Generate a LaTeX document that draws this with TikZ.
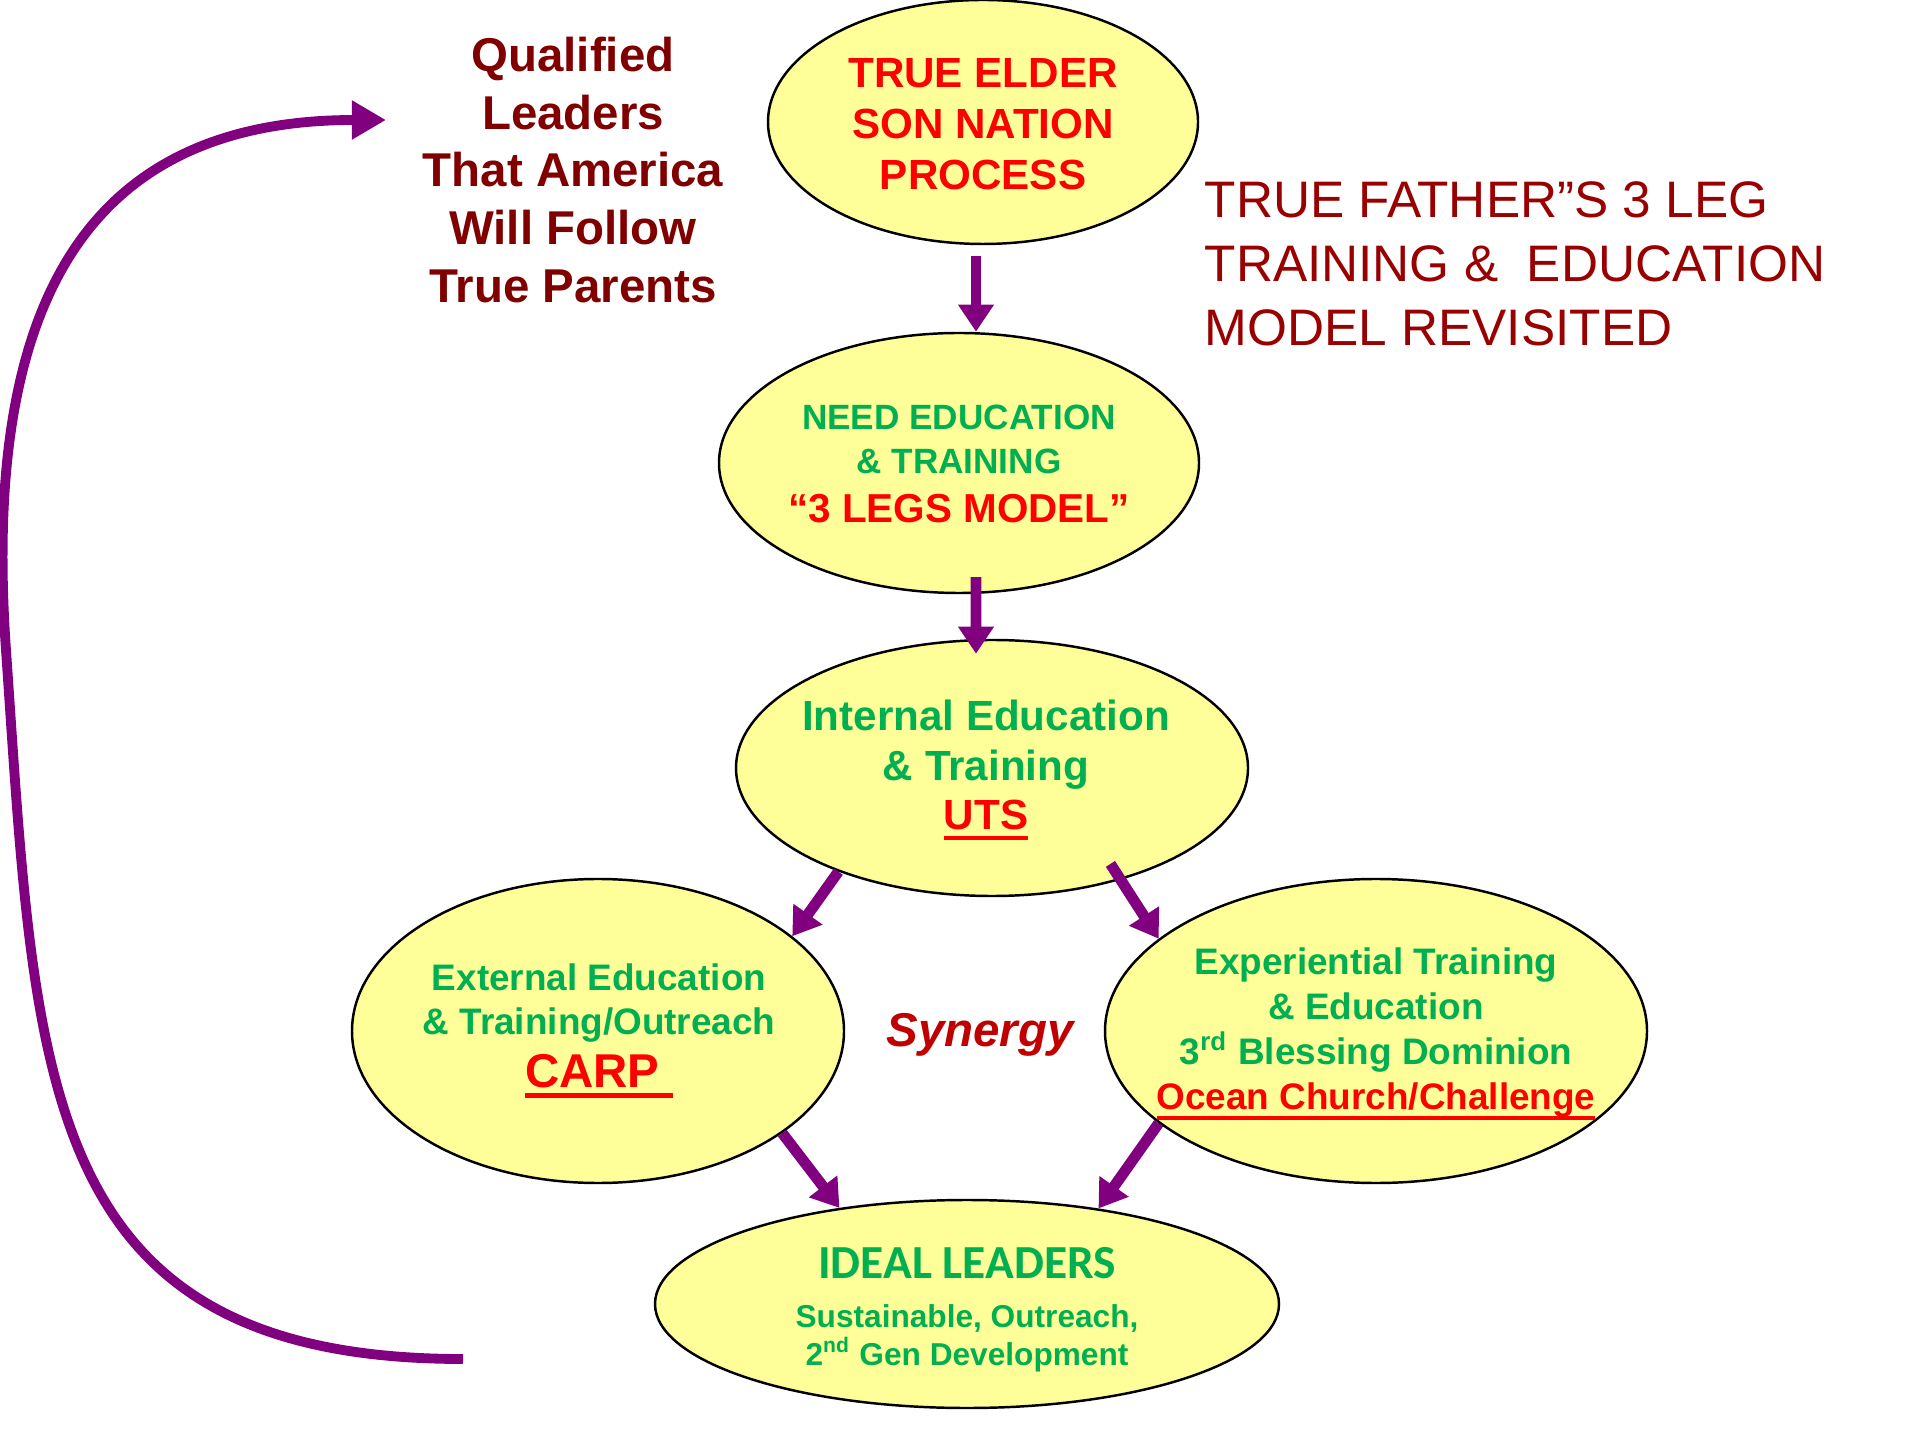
\documentclass[tikz,border=0pt]{standalone}
\usepackage{fontspec}
\setmainfont{Liberation Sans}
\newfontfamily\calibrifont{Carlito}
\usetikzlibrary{shapes.geometric,arrows.meta}
\definecolor{bubbleyellow}{HTML}{FFFF99}
\definecolor{leafgreen}{HTML}{00B050}
\definecolor{darkred}{HTML}{800000}
\definecolor{scriptred}{HTML}{990000}
\definecolor{synergyred}{HTML}{C00000}
\definecolor{arrowpurple}{HTML}{800080}
\newcommand{\redline}[1]{\leavevmode\setbox0\hbox{#1}\rlap{\vrule height -1.7pt depth 3.0pt width \wd0}\box0}
\begin{document}
\begin{tikzpicture}[
    bubble/.style={ellipse, draw=black, line width=0.7pt, fill=bubbleyellow, inner sep=0pt},
    flow/.style={draw=arrowpurple, line width=3.1pt, -{Triangle[length=7.7pt,width=9.7pt]}},
    returnline/.style={draw=arrowpurple, line width=2.8pt, -{Triangle[length=9.7pt,width=10.5pt]}},
    greentext/.style={text=leafgreen, align=center},
  ]
  \useasboundingbox (0,0) rectangle (19.2,14.4);

  \node[bubble, minimum width=4.30cm, minimum height=2.44cm] (elder) at (9.83,13.18) {};
  \node[bubble, minimum width=4.80cm, minimum height=2.60cm] (need) at (9.59,9.77) {};
  \node[bubble, minimum width=5.12cm, minimum height=2.56cm] (internal) at (9.92,6.72) {};
  \node[bubble, minimum width=4.92cm, minimum height=3.04cm] (external) at (5.98,4.09) {};
  \node[bubble, minimum width=5.42cm, minimum height=3.04cm] (experiential) at (13.76,4.09) {};
  \node[bubble, minimum width=6.24cm, minimum height=2.08cm] (ideal) at (9.67,1.36) {};

  \node[align=center, text=red, font=\bfseries\fontsize{12}{14.5}\selectfont] (elderText) at (9.83,13.16)
    {TRUE ELDER\\SON NATION\\PROCESS};
  \node[greentext, font=\bfseries\fontsize{10}{12.5}\selectfont] (needText) at (9.59,9.76)
    {NEED EDUCATION\\\& TRAINING\\[1.4pt]{\color{red}\fontsize{11.5}{12.5}\selectfont “3 LEGS MODEL”}};
  \node[greentext, font=\bfseries\fontsize{12}{14.2}\selectfont] (internalText) at (9.86,6.70)
    {Internal Education\\\& Training\\{\color{red}\redline{UTS}}};
  \node[greentext, font=\bfseries\fontsize{10.5}{12.5}\selectfont] (externalText) at (5.99,4.09)
    {External Education\\\& Training/Outreach\\[2.5pt]{\color{red}\fontsize{13.5}{15}\selectfont\redline{CARP\ }}};
  \node[greentext, font=\bfseries\fontsize{10.5}{12.8}\selectfont] (experientialText) at (13.76,4.06)
    {Experiential Training\\\& Education\\3\textsuperscript{rd} Blessing Dominion\\{\color{red}\redline{Ocean Church/Challenge}}};
  \node[greentext, font=\bfseries\fontsize{9}{10.8}\selectfont] (idealText) at (9.67,1.30)
    {{\calibrifont\fontsize{13.5}{14}\selectfont IDEAL LEADERS}\\[3.2pt]Sustainable, Outreach,\\2\textsuperscript{nd} Gen Development};

  \node[text=synergyred, font=\bfseries\itshape\fontsize{13.5}{16}\selectfont] (synergy) at (9.80,4.05) {Synergy};
  \node[align=center, text=darkred, font=\bfseries\fontsize{13.5}{16.4}\selectfont] (qualified) at (5.73,12.70)
    {Qualified\\Leaders\\That America\\Will Follow\\True Parents};
  \node[anchor=west, align=left, inner sep=0pt, text=scriptred, font=\fontsize{14.6}{18.2}\selectfont] (title) at (12.04,11.76)
    {TRUE FATHER”S 3 LEG\\TRAINING \&\ \ EDUCATION\\MODEL REVISITED};

  \draw[flow] ([xshift=-0.07cm,yshift=-0.11cm]elder.south) -- ([xshift=0.17cm]need.north);
  \draw[flow] ([xshift=0.17cm,yshift=0.17cm]need.south) -- ([xshift=-0.16cm,yshift=-0.15cm]internal.north);
  \draw[flow] (internal.214) -- (external.26);
  \draw[flow, shorten <=-0.19cm] (internal.-41) -- (experiential.157);
  \draw[flow] (external.-29) -- (ideal.143);
  \draw[flow] (experiential.203) -- (ideal.36);

  \coordinate (loopStart) at (4.63,0.81);
  \coordinate (loopBend) at (0.06,7.9);
  \coordinate (loopEnd) at (3.86,13.20);
  \draw[returnline] (loopStart) to[out=180,in=-86,looseness=1.3] (loopBend)
    to[out=94,in=180,looseness=1.25] (loopEnd);
\end{tikzpicture}
\end{document}
